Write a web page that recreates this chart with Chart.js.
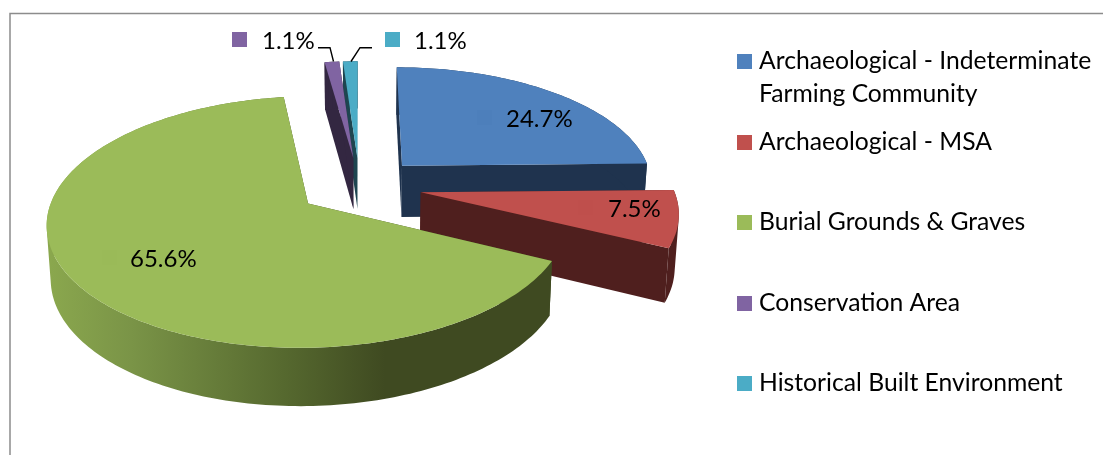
<!DOCTYPE html>
<html>
<head>
<meta charset="utf-8">
<title>Heritage resources</title>
<script src="https://cdn.jsdelivr.net/npm/chart.js@4"></script>
<style>
  html, body { margin: 0; padding: 0; background: #fff; }
  canvas { display: block; }
</style>
</head>
<body>
<canvas id="myPieChart" width="1103" height="455"></canvas>
<script>
const categories = [
  "Archaeological - Indeterminate Farming Community",
  "Archaeological - MSA",
  "Burial Grounds & Graves",
  "Conservation Area",
  "Historical Built Environment",
];
const percentages = [24.7, 7.5, 65.6, 1.1, 1.1];
const topColors = ["#4f81bd", "#c0504d", "#9bbb59", "#8064a2", "#4bacc6"];
const wallColors = ["#1f334e", "#4f1f1e", "#3f4a21", "#332741", "#1e4550"];
const keyColors = ["#4d7fbb", "#bf4f4c", "#9aba58", "#8064a2", "#4bacc6"];

// where the legend and label texts sit, Excel does not space them evenly
const legendRows = [
  { lines: ["Archaeological - Indeterminate", "Farming Community"], y: 61.5 },
  { lines: ["Archaeological - MSA"], y: 142.5 },
  { lines: ["Burial Grounds & Graves"], y: 222.5 },
  { lines: ["Conservation Area"], y: 303.5 },
  { lines: ["Historical Built Environment"], y: 383.5 },
];
const labelSpots = [
  { x: 506, y: 119, keyX: 477, keyY: 110 },
  { x: 608, y: 209, keyX: 578, keyY: 200 },
  { x: 130, y: 259, keyX: 102, keyY: 250 },
  { x: 262, y: 41, keyX: 232, keyY: 32 },
  { x: 414, y: 41, keyX: 385, keyY: 32 },
];

// perspective of the tilted pie
const view = { x0: 359.5, y0: 186, k: 252, m: 118, p: 0.144 };

function project(u, v) {
  const w = 1 - view.p * v;
  return { x: view.x0 + (view.k * u) / w, y: view.y0 + (view.m * v) / w, w: w, v: v };
}

function lower(pt) {
  return { x: view.x0 + (pt.x - view.x0) * 0.987, y: pt.y + 20 + 32 / pt.w, v: pt.v };
}

function sliceOutline(arc) {
  const mid = (arc.startAngle + arc.endAngle) / 2;
  const d = arc.options.offset / arc.outerRadius;
  const du = Math.cos(mid) * d;
  const dv = Math.sin(mid) * d;
  const steps = Math.max(2, Math.ceil((arc.endAngle - arc.startAngle) / 0.02));
  const rim = [];
  for (let i = 0; i <= steps; i++) {
    const a = arc.startAngle + ((arc.endAngle - arc.startAngle) * i) / steps;
    rim.push(project(Math.cos(a) + du, Math.sin(a) + dv));
  }
  return { apex: project(du, dv), rim: rim };
}

function tracePoly(ctx, pts) {
  pts.forEach((p, i) => (i ? ctx.lineTo(p.x, p.y) : ctx.moveTo(p.x, p.y)));
  ctx.closePath();
}

function fillPoly(ctx, pts, color) {
  ctx.beginPath();
  tracePoly(ctx, pts);
  ctx.fillStyle = color;
  ctx.fill();
}

// curved side as one path of quads, all wound the same way so folds stay filled
function fillSide(ctx, rim, color) {
  ctx.beginPath();
  for (let n = 0; n < rim.length - 1; n++) {
    const quad = [rim[n], rim[n + 1], lower(rim[n + 1]), lower(rim[n])];
    let area = 0;
    quad.forEach((p, i) => {
      const q = quad[(i + 1) % 4];
      area += p.x * q.y - q.x * p.y;
    });
    tracePoly(ctx, area < 0 ? quad.reverse() : quad);
  }
  ctx.fillStyle = color;
  ctx.fill();
}

const pie3d = {
  id: "pie3d",
  beforeDatasetDraw(chart) {
    const ctx = chart.ctx;
    const arcs = chart.getDatasetMeta(0).data;
    const slices = arcs.map((arc, i) => ({ i: i, outline: sliceOutline(arc) }));
    slices.sort((a, b) => a.outline.apex.v - b.outline.apex.v);

    const greenWall = ctx.createLinearGradient(46, 0, 385, 0);
    greenWall.addColorStop(0, "#8ba84e");
    greenWall.addColorStop(0.25, "#7a9447");
    greenWall.addColorStop(0.7, "#56692f");
    greenWall.addColorStop(1, "#3f4a21");

    ctx.save();
    slices.forEach((s) => {
      const { apex, rim } = s.outline;
      const first = rim[0];
      const last = rim[rim.length - 1];
      const color = wallColors[s.i];
      fillPoly(ctx, [apex, first, lower(first), lower(apex)], color);
      fillPoly(ctx, [apex, last, lower(last), lower(apex)], color);
      fillSide(ctx, rim, s.i === 2 ? greenWall : color);
      fillPoly(ctx, [apex].concat(rim), topColors[s.i]);
    });
    ctx.restore();
    return false;
  },
  afterDatasetsDraw(chart) {
    const ctx = chart.ctx;
    ctx.save();

    // chart area frame, only top and left are in the picture
    ctx.strokeStyle = "#8c8c8c";
    ctx.lineWidth = 1.5;
    ctx.beginPath();
    ctx.moveTo(10, 455);
    ctx.lineTo(10, 13.5);
    ctx.lineTo(1103, 13.5);
    ctx.stroke();

    // leader lines for the two thin slices
    ctx.strokeStyle = "#000";
    ctx.lineWidth = 1.4;
    ctx.beginPath();
    ctx.moveTo(318, 47.7);
    ctx.lineTo(330, 47.7);
    ctx.lineTo(333.5, 61.5);
    ctx.moveTo(372, 47.7);
    ctx.lineTo(360, 47.7);
    ctx.lineTo(351, 61.5);
    ctx.stroke();

    ctx.textBaseline = "middle";
    ctx.textAlign = "left";
    ctx.font = "24px Lato, sans-serif";
    percentages.forEach((value, i) => {
      const spot = labelSpots[i];
      ctx.fillStyle = keyColors[i];
      ctx.fillRect(spot.keyX, spot.keyY, 15, 15);
      ctx.fillStyle = "#000";
      ctx.fillText(value.toFixed(1) + "%", spot.x, spot.y);
    });

    ctx.font = "24.7px Lato, sans-serif";
    legendRows.forEach((row, i) => {
      ctx.fillStyle = topColors[i];
      ctx.fillRect(737, Math.floor(row.y) - 7, 15, 15);
      ctx.fillStyle = "#000";
      row.lines.forEach((line, n) => ctx.fillText(line, 759, row.y + n * 33));
    });
    ctx.restore();
  },
};

document.addEventListener("DOMContentLoaded", function () {
  const ctx = document.getElementById("myPieChart").getContext("2d");
  new Chart(ctx, {
    type: "pie",
    data: {
      labels: categories,
      datasets: [
        {
          data: percentages,
          backgroundColor: topColors,
          borderWidth: 0,
          offset: 50,
        },
      ],
    },
    options: {
      responsive: false,
      animation: false,
      plugins: { legend: { display: false }, tooltip: { enabled: false } },
    },
    plugins: [pie3d],
  });
});
</script>
</body>
</html>
